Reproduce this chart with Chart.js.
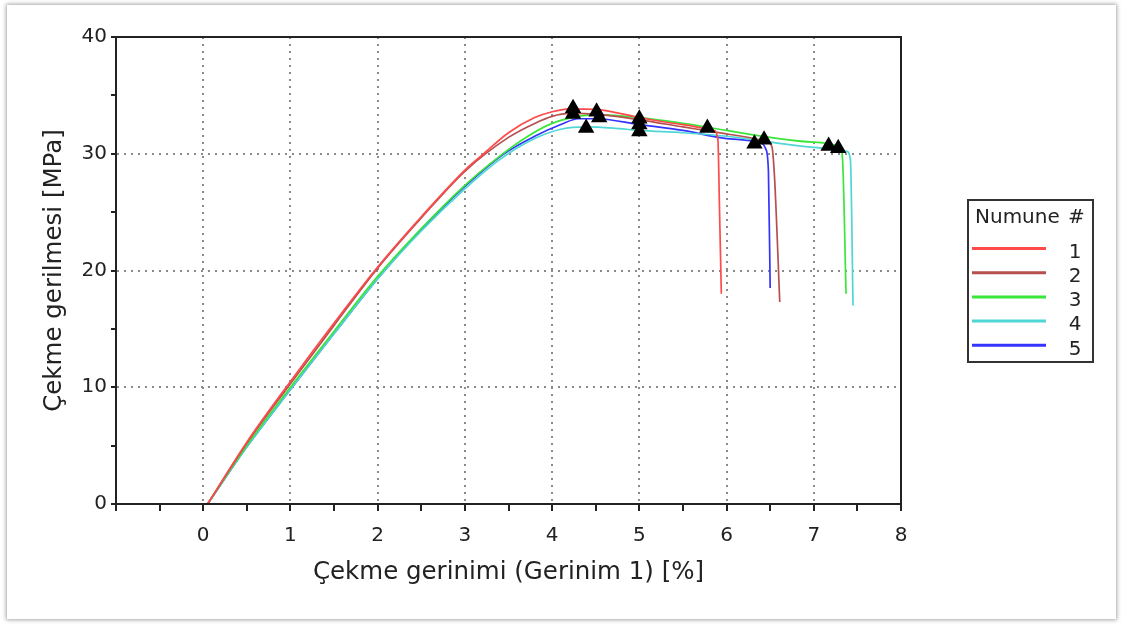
<!DOCTYPE html>
<html>
<head>
<meta charset="utf-8">
<script src="https://cdn.jsdelivr.net/npm/chart.js@4"></script>
<style>
  html, body { margin: 0; padding: 0; background: #fff; }
  #frame { position: absolute; left: 7px; top: 5px; width: 1109px; height: 614px;
           background: #fff; box-shadow: 0 0 4px 1px rgba(0,0,0,0.35); }
  #wrap { position: absolute; left: 0; top: 0; width: 1122px; height: 626px; }
</style>
</head>
<body>
<div id="frame"></div>
<div id="wrap"><canvas id="grafik" width="1122" height="626"></canvas></div>
<script>
// numune egrileri: gerinim [%] / gerilme [MPa]
var numuneler = ['1', '2', '3', '4', '5'];
var renkler = ['#ff4a4a', '#b5504f', '#39e639', '#4fd6d6', '#3434ff'];

var gerinim1 = [0.05, 0.5, 1, 1.5, 2, 2.5, 3, 3.2, 3.5, 3.8, 4.0, 4.2, 4.5, 5.0, 5.5, 5.85, 5.9, 5.92, 5.94];
var gerilme1 = [0, 5.3, 10.5, 15.5, 20.3, 24.6, 28.6, 29.9, 31.8, 33.1, 33.6, 33.85, 33.8, 33.1, 32.5, 32.0, 31.3, 25, 18.0];

var gerinim2 = [0.05, 0.5, 1, 1.5, 2, 2.5, 3, 3.5, 3.8, 4.0, 4.2, 4.5, 5.0, 5.5, 6.0, 6.45, 6.52, 6.55, 6.61];
var gerilme2 = [0, 5.2, 10.3, 15.3, 20.2, 24.5, 28.5, 31.4, 32.6, 33.2, 33.45, 33.4, 32.9, 32.3, 31.7, 31.1, 30.6, 28, 17.3];

var gerinim3 = [0.05, 0.5, 1, 1.5, 2, 2.5, 3, 3.4, 3.7, 4.0, 4.3, 4.5, 5.0, 5.5, 6.0, 6.5, 7.0, 7.3, 7.33, 7.37];
var gerilme3 = [0, 5.0, 10.0, 14.8, 19.5, 23.6, 27.3, 29.8, 31.4, 32.6, 33.2, 33.35, 33.1, 32.6, 32.0, 31.4, 31.0, 30.6, 29.5, 18.0];

var gerinim4 = [0.05, 0.5, 1, 1.5, 2, 2.5, 3, 3.4, 3.8, 4.1, 4.4, 4.7, 5.0, 5.5, 6.0, 6.5, 7.0, 7.38, 7.42, 7.45];
var gerilme4 = [0, 4.9, 9.8, 14.6, 19.3, 23.4, 27.0, 29.5, 31.3, 32.1, 32.3, 32.2, 32.0, 31.8, 31.5, 31.0, 30.55, 30.2, 29.5, 17.0];

var gerinim5 = [0.05, 0.5, 1, 1.5, 2, 2.5, 3, 3.45, 3.8, 4.1, 4.3, 4.5, 5.0, 5.5, 6.0, 6.4, 6.45, 6.48, 6.50];
var gerilme5 = [0, 4.9, 9.8, 14.6, 19.3, 23.5, 27.2, 30.0, 31.5, 32.5, 33.0, 33.0, 32.5, 32.0, 31.3, 30.9, 30.4, 28.5, 18.5];

// ucgen isaretler
var isaretX = [4.24, 4.24, 4.39, 4.51, 4.54, 5.0, 5.0, 5.0, 5.78, 6.32, 6.43, 7.17, 7.28];
var isaretY = [33.9, 33.4, 32.2, 33.6, 33.1, 33.0, 32.5, 31.9, 32.2, 30.85, 31.2, 30.66, 30.47];

var xTicks = [0, 1, 2, 3, 4, 5, 6, 7, 8];
var yTicks = [0, 10, 20, 30, 40];

var gerinimler = [gerinim1, gerinim2, gerinim3, gerinim4, gerinim5];
var gerilmeler = [gerilme1, gerilme2, gerilme3, gerilme4, gerilme5];

function noktalar(xs, ys) {
  return xs.map(function (x, i) { return { x: x, y: ys[i] }; });
}

var yazi = "'DejaVu Sans', Verdana, sans-serif";

var datasets = [{
  label: 'isaret',
  data: noktalar(isaretX, isaretY),
  showLine: false,
  pointStyle: 'triangle',
  pointRadius: 9.5,
  backgroundColor: '#000',
  borderColor: '#000',
  borderWidth: 0
}];
for (let i = 0; i < numuneler.length; i++) {
  datasets.push({
    label: numuneler[i],
    data: noktalar(gerinimler[i], gerilmeler[i]),
    borderColor: renkler[i],
    borderWidth: 1.7,
    pointRadius: 0,
    cubicInterpolationMode: 'monotone',
    showLine: true
  });
}

// kutu + sag taraftaki lejant
var cerceve = {
  id: 'cerceve',
  afterDraw: function (chart) {
    const c = chart.ctx, a = chart.chartArea;
    c.save();
    c.strokeStyle = '#222';
    c.lineWidth = 2;
    c.strokeRect(a.left, a.top, a.right - a.left, a.bottom - a.top);
    // lejant
    c.strokeStyle = '#333';
    c.strokeRect(968, 200, 125, 162);
    c.fillStyle = '#222';
    c.font = '20px ' + yazi;
    c.textBaseline = 'middle';
    c.textAlign = 'left';
    c.fillText('Numune', 975, 218);
    c.fillText('#', 1068, 218);
    for (let i = 0; i < numuneler.length; i++) {
      const y = 248.5 + i * 24.2;
      c.strokeStyle = renkler[i];
      c.lineWidth = 3;
      c.beginPath();
      c.moveTo(972, y);
      c.lineTo(1046, y);
      c.stroke();
      c.fillStyle = '#222';
      c.textAlign = 'center';
      c.fillText(numuneler[i], 1075, y + 4);
    }
    c.restore();
  }
};

new Chart(document.getElementById('grafik'), {
  type: 'scatter',
  data: { datasets: datasets },
  options: {
    responsive: false,
    animation: false,
    layout: { padding: { left: 0, top: 37, right: 221, bottom: 0 } },
    plugins: { legend: { display: false }, tooltip: { enabled: false } },
    scales: {
      x: {
        type: 'linear', min: -1, max: 8,
        afterBuildTicks: function (s) {
          s.ticks = [];
          for (let v = -1; v <= 8; v += 0.5) s.ticks.push({ value: v });
        },
        afterFit: function (s) { s.height = 122; },
        ticks: {
          autoSkip: false, maxRotation: 0, padding: 13,
          color: '#222', font: { family: yazi, size: 20 },
          callback: function (v) { return xTicks.indexOf(v) >= 0 ? String(v) : ''; }
        },
        grid: {
          color: function (ctx) {
            const v = ctx.tick && ctx.tick.value;
            return (Number.isInteger(v) && v > -1 && v < 8) ? '#8a8a8a' : 'rgba(0,0,0,0)';
          },
          lineWidth: 2,
          tickColor: '#222', tickLength: 7, tickWidth: 2
        },
        border: { color: '#222', width: 2, dash: [2, 5] },
        title: {
          display: true, text: 'Çekme gerinimi (Gerinim 1) [%]', color: '#222',
          font: { family: yazi, size: 24.5 }, padding: { top: 0, bottom: 39 }
        }
      },
      y: {
        type: 'linear', min: 0, max: 40,
        afterBuildTicks: function (s) {
          s.ticks = [];
          for (let v = 0; v <= 40; v += 5) s.ticks.push({ value: v });
        },
        afterFit: function (s) { s.width = 116; },
        ticks: {
          autoSkip: false, padding: 4,
          color: '#222', font: { family: yazi, size: 20 },
          callback: function (v) { return yTicks.indexOf(v) >= 0 ? String(v) : ''; }
        },
        grid: {
          color: function (ctx) {
            const v = ctx.tick && ctx.tick.value;
            return (v % 10 === 0 && v > 0 && v < 40) ? '#8a8a8a' : 'rgba(0,0,0,0)';
          },
          lineWidth: 2,
          tickColor: '#222', tickLength: 5, tickWidth: 2
        },
        border: { color: '#222', width: 2, dash: [2, 5] },
        title: {
          display: true, text: 'Çekme gerilmesi [MPa]', color: '#222',
          font: { family: yazi, size: 24.5 }, padding: { top: 40, bottom: 0 }
        }
      }
    }
  },
  plugins: [cerceve]
});
</script>
</body>
</html>
